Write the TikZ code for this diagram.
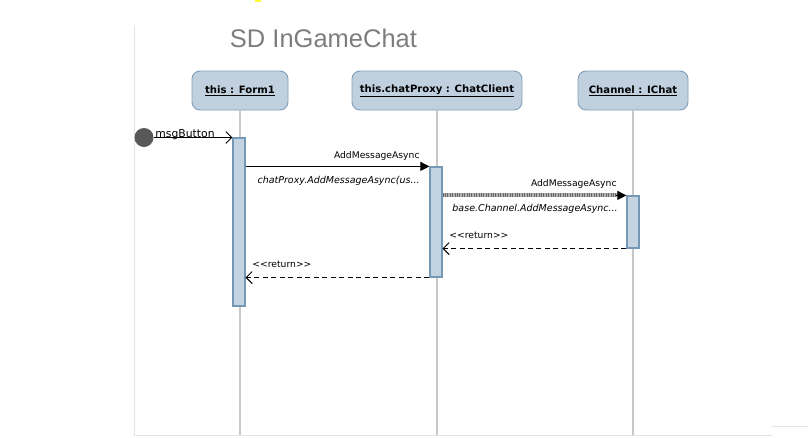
\documentclass[tikz,border=0pt]{standalone}
\usepackage{fontspec}
\setmainfont{DejaVu Sans}
\newfontfamily\titlefont{Liberation Sans}
\usetikzlibrary{arrows.meta}

\definecolor{boxfill}{RGB}{193,208,222}
\definecolor{boxline}{RGB}{128,158,184}
\definecolor{actfill}{RGB}{196,211,225}
\definecolor{actline}{RGB}{118,152,183}
\definecolor{lifegray}{RGB}{200,200,200}
\definecolor{framegray}{RGB}{228,228,228}
\definecolor{dotgray}{RGB}{88,88,88}
\definecolor{titlegray}{RGB}{125,125,125}
\definecolor{hatchlight}{RGB}{178,178,178}
\definecolor{hatchdark}{RGB}{105,105,105}

\tikzset{
  obj/.style={draw=boxline,fill=boxfill,rounded corners=8pt,minimum height=39pt,
    inner sep=0pt,font=\bfseries\fontsize{10.1}{12}\selectfont},
  act/.style={draw=actline,fill=actfill,line width=1.2pt,minimum width=12pt,inner sep=0pt},
  life/.style={draw=lifegray,line width=1.6pt},
  lbl/.style={inner sep=0pt,font=\fontsize{9.2}{11}\selectfont},
  sig/.style={inner sep=0pt,font=\itshape\fontsize{9.5}{11}\selectfont},
  call/.style={-{Triangle[length=9pt,width=9pt]}},
  open/.style={-{Straight Barb[length=6pt,width=12pt]}},
  ret/.style={dash pattern=on 5pt off 3.5pt,-{Straight Barb[length=6pt,width=12pt]}},
}

\begin{document}
\begin{tikzpicture}[x=1pt,y=-1pt,line width=0.9pt]
  \useasboundingbox (0,0) rectangle (808,437);
  % frame
  \draw[framegray,line width=1pt] (134,25) -- (134,435) -- (772,435);
  \draw[framegray,line width=1pt] (772,426) -- (808,426);
  \fill[yellow!80!white] (255,0) rectangle (261,1.5);

  \node[text=titlegray,font=\titlefont\fontsize{25.5}{28}\selectfont,anchor=base]
    (title) at (323.5,47) {SD InGameChat};

  % objects
  \node[obj,minimum width=96pt]  (fm) at (240,90.5) {\underline{this : Form1}};
  \node[obj,minimum width=170pt] (cp) at (437,90.5) {\underline{this.chatProxy : ChatClient}};
  \node[obj,minimum width=110pt] (ch) at (633,90.5) {\underline{Channel : IChat}};
  \coordinate (bot) at (0,435);
  \foreach \o in {fm,cp,ch}
    \draw[life] (\o) -- (\o |- bot);

  % activations
  \node[act,minimum height=168pt] (aF) at (239,222) {};
  \node[act,minimum height=110pt] (aP) at (436,222) {};
  \node[act,minimum height=52pt]  (aC) at (633,222) {};

  % found message
  \node[circle,fill=dotgray,minimum size=19pt,inner sep=0pt] (dot) at (144,137.5) {};
  \draw[open] (dot) -- (dot -| aF.west);
  \node[lbl,font=\fontsize{10.8}{12}\selectfont,anchor=base west] (mb) at (155,137.5) {msgButton};

  % calls
  \draw[call] (aF.east |- aP.north) -- (aP.north west);
  \node[lbl,anchor=base east] (m1) at (420,158) {AddMessageAsync};
  \node[sig,anchor=base east] (s1) at (420,183) {chatProxy.AddMessageAsync(us...};

  \draw[hatchlight,line width=4pt] (aP.east |- aC.north) -- ([xshift=-8pt]aC.north west);
  \draw[hatchdark,line width=4pt,dash pattern=on 1pt off 1.4pt]
    (aP.east |- aC.north) -- ([xshift=-8pt]aC.north west);
  \draw[call] ([xshift=-10pt]aC.north west) -- (aC.north west);
  \node[lbl,anchor=base east] (m2) at (617,186) {AddMessageAsync};
  \node[sig,anchor=base west] (s2) at (452,211) {base.Channel.AddMessageAsync...};

  % returns
  \draw[ret] (aC.south west) -- (aC.south west -| aP.east);
  \node[lbl,anchor=base west] (r1) at (449,238) {<{}<return>{}>};
  \draw[ret] (aP.south west) -- (aP.south west -| aF.east);
  \node[lbl,anchor=base west] (r2) at (252,267) {<{}<return>{}>};
\end{tikzpicture}
\end{document}
